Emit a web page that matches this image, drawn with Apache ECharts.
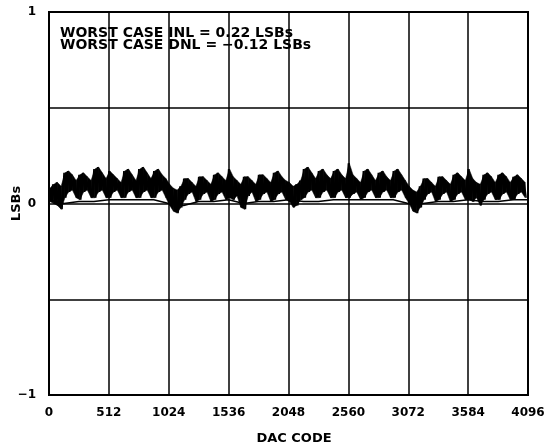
<!DOCTYPE html>
<html>
<head>
<meta charset="utf-8">
<script src="https://cdn.jsdelivr.net/npm/echarts@6/dist/echarts.min.js"></script>
<style>
html,body{margin:0;padding:0;background:#fff;}
#chart{width:545px;height:446px;}
</style>
</head>
<body>
<div id="chart"></div>
<script>
// X axis ticks (DAC codes)
var xTicks = [0, 512, 1024, 1536, 2048, 2560, 3072, 3584, 4096];
var yTicks = [-1, -0.5, 0, 0.5, 1];
var xName = 'DAC CODE';
var yName = 'LSBs';
var notes = ['WORST CASE INL = 0.22 LSBs', 'WORST CASE DNL = \u22120.12 LSBs'];

// INL trace, sampled every 16 codes (alternating upper / lower edge of the noisy band)
var seg0 = [0.08,0.01, 0.10,0.00, 0.11,-0.01, 0.09,-0.03,  0.16,0.03, 0.17,0.06, 0.15,0.07, 0.12,0.03,  0.15,0.02, 0.16,0.06, 0.14,0.07, 0.12,0.03,  0.18,0.03, 0.19,0.06, 0.16,0.07, 0.13,0.03];
var seg1 = [0.17,0.03, 0.15,0.06, 0.13,0.07, 0.11,0.03,  0.17,0.03, 0.18,0.06, 0.15,0.07, 0.12,0.03,  0.18,0.03, 0.19,0.06, 0.16,0.07, 0.13,0.03,  0.17,0.03, 0.18,0.06, 0.15,0.07, 0.13,0.03];
var seg2 = [0.10,-0.01, 0.08,-0.04, 0.07,-0.05, 0.09,-0.02,  0.13,0.02, 0.13,0.05, 0.11,0.06, 0.09,0.01,  0.14,0.02, 0.14,0.05, 0.12,0.06, 0.10,0.01,  0.15,0.02, 0.16,0.05, 0.14,0.06, 0.12,0.02];
var seg3 = [0.18,0.03, 0.14,0.02, 0.12,0.04, 0.10,-0.02,  0.14,-0.03, 0.14,0.04, 0.12,0.06, 0.10,0.01,  0.15,0.02, 0.15,0.05, 0.13,0.06, 0.11,0.01,  0.16,0.02, 0.17,0.05, 0.14,0.06, 0.12,0.02];
var seg4 = [0.11,0.01, 0.09,-0.02, 0.10,-0.01, 0.12,0.02,  0.18,0.03, 0.19,0.06, 0.16,0.07, 0.13,0.03,  0.17,0.03, 0.18,0.06, 0.15,0.07, 0.13,0.03,  0.17,0.03, 0.18,0.06, 0.15,0.07, 0.13,0.03];
var seg5 = [0.21,0.03, 0.15,0.05, 0.13,0.06, 0.11,0.02,  0.17,0.03, 0.18,0.06, 0.15,0.07, 0.12,0.03,  0.16,0.03, 0.17,0.06, 0.14,0.07, 0.12,0.03,  0.17,0.03, 0.18,0.06, 0.15,0.07, 0.12,0.03];
var seg6 = [0.09,0.00, 0.07,-0.04, 0.06,-0.05, 0.09,-0.02,  0.13,0.02, 0.13,0.05, 0.11,0.06, 0.09,0.01,  0.14,0.02, 0.14,0.05, 0.12,0.06, 0.10,0.01,  0.15,0.02, 0.16,0.05, 0.14,0.06, 0.12,0.02];
var seg7 = [0.18,0.02, 0.13,0.01, 0.11,0.03, 0.10,-0.01,  0.15,0.02, 0.16,0.05, 0.14,0.06, 0.11,0.02,  0.15,0.02, 0.16,0.05, 0.14,0.06, 0.11,0.02,  0.14,0.02, 0.15,0.05, 0.13,0.06, 0.11,0.03];
var inlStep = 16;

// lower trace, every 128 codes
var baseLine = [0.02,0.00,0.01,0.01, 0.02,0.02,0.02,0.02, 0.00,-0.01,0.01,0.01, 0.02,0.00,0.01,0.01,
                0.02,0.01,0.01,0.02, 0.02,0.02,0.02,0.02, 0.00,0.00,0.01,0.01, 0.02,0.01,0.01,0.02, 0.02];
var baseStep = 128;

var segs = [seg0, seg1, seg2, seg3, seg4, seg5, seg6, seg7];
var inl = [];
segs.forEach(function (s) { s.forEach(function (v) { inl.push([inl.length * inlStep, v]); }); });
// band edges at the same codes (upper, lower pairs)
var band = [];
for (var i = 0; i + 1 < inl.length; i += 2) {
  band.push([inl[i][0] + inlStep / 2, inl[i + 1][1], inl[i][1]]);
}
var bandQuads = [];
for (var j = 0; j + 1 < band.length; j++) {
  bandQuads.push([band[j][0], band[j][1], band[j][2], band[j + 1][0], band[j + 1][1], band[j + 1][2]]);
}
var base = baseLine.map(function (v, i) { return [i * baseStep, v]; });

var FONT = 'DejaVu Sans';
var chart = echarts.init(document.getElementById('chart'), null, {renderer: 'canvas'});
chart.setOption({
  animation: false,
  backgroundColor: '#fff',
  grid: {left: 49, right: 17, top: 12, bottom: 51, show: false, containLabel: false, outerBoundsMode: 'none'},
  xAxis: {
    type: 'value', min: xTicks[0], max: xTicks[xTicks.length - 1], interval: 512,
    name: xName, nameLocation: 'middle', nameGap: 37,
    nameTextStyle: {fontFamily: FONT, fontWeight: 'bold', fontSize: 13, color: '#000', padding: [0, 0, 0, 11]},
    axisLine: {show: true, onZero: false, lineStyle: {color: '#000', width: 2}},
    axisTick: {show: false},
    axisLabel: {margin: 12, fontFamily: FONT, fontWeight: 'bold', fontSize: 12, color: '#000',
      formatter: function (v) { return String(v); }},
    splitLine: {show: true, lineStyle: {color: '#000', width: 1.5}}
  },
  yAxis: {
    type: 'value', min: yTicks[0], max: yTicks[yTicks.length - 1], interval: 0.5,
    name: yName, nameLocation: 'middle', nameGap: 26, nameRotate: 90, nameMoveOverlap: false,
    nameTextStyle: {fontFamily: FONT, fontWeight: 'bold', fontSize: 13, color: '#000'},
    axisLine: {show: true, onZero: false, lineStyle: {color: '#000', width: 2}},
    axisTick: {show: false},
    axisLabel: {
      margin: 13, fontFamily: FONT, fontWeight: 'bold', fontSize: 12, color: '#000',
      formatter: function (v) { return (v === 1 || v === 0) ? String(v) : (v === -1 ? '\u22121' : ''); }
    },
    splitLine: {show: true, lineStyle: {color: '#000', width: 1.5}}
  },
  graphic: [
    {type: 'rect', shape: {x: 49, y: 12, width: 479, height: 383}, style: {fill: 'none', stroke: '#000', lineWidth: 2}, z: 10}
  ],
  title: {
    text: notes.join('\n'), left: 60, top: 27, padding: 0,
    textStyle: {fontFamily: FONT, fontWeight: 'bold', fontSize: 14, lineHeight: 12, color: '#000'}
  },
  series: [
    {
      type: 'custom', data: bandQuads, z: 4, silent: true,
      renderItem: function (params, api) {
        var a = api.coord([api.value(0), api.value(1)]);
        var b = api.coord([api.value(0), api.value(2)]);
        var c = api.coord([api.value(3), api.value(5)]);
        var d = api.coord([api.value(3), api.value(4)]);
        return {type: 'polygon', shape: {points: [a, b, c, d]},
                style: {fill: '#000', stroke: '#000', lineWidth: 0.5}};
      },
      encode: {x: [0, 3], y: [1, 2, 4, 5]}
    },
    {type: 'line', data: inl, showSymbol: false, lineStyle: {color: '#000', width: 1.5}, z: 5},
    {type: 'line', data: base, showSymbol: false, lineStyle: {color: '#000', width: 1.5}, z: 5}
  ]
});
</script>
</body>
</html>
